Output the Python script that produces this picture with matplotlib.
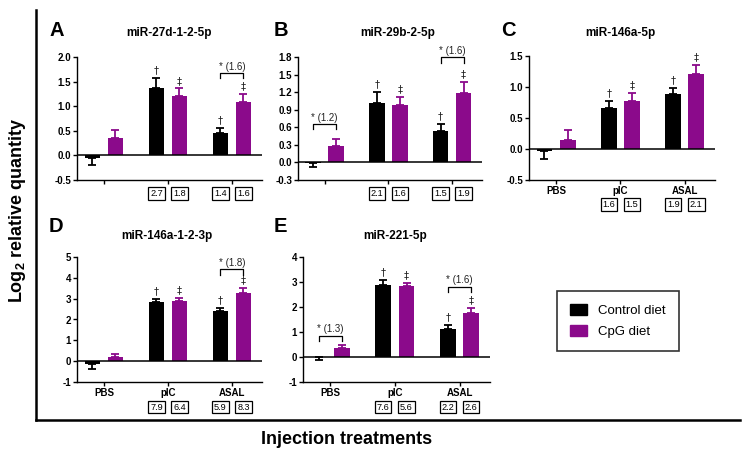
import numpy as np
import matplotlib.pyplot as plt
from matplotlib.lines import Line2D
from matplotlib.patches import Patch
import matplotlib.transforms as mtransforms

plt.rcParams["font.family"] = ["Liberation Sans", "DejaVu Sans"]
plt.rcParams["mathtext.fontset"] = "custom"
plt.rcParams["mathtext.bf"] = "Liberation Sans:bold"
plt.rcParams["mathtext.rm"] = "Liberation Sans:bold"

groups = ["PBS", "pIC", "ASAL"]
diet_labels = ["Control diet", "CpG diet"]
ctrl_color = "black"
cpg_color = "#8B0A8B"

letters = ["A", "B", "C", "D", "E"]
titles = ["miR-27d-1-2-5p", "miR-29b-2-5p", "miR-146a-5p", "miR-146a-1-2-3p", "miR-221-5p"]

# means / SEM per panel (PBS, pIC, ASAL)
ctrl_mean = {"A": [-0.05, 1.36, 0.45], "B": [-0.01, 1.02, 0.54], "C": [-0.03, 0.66, 0.88],
             "D": [-0.12, 2.82, 2.40], "E": [-0.01, 2.88, 1.12]}
ctrl_sem = {"A": [0.15, 0.21, 0.11], "B": [0.06, 0.19, 0.11], "C": [0.13, 0.11, 0.10],
            "D": [0.26, 0.17, 0.15], "E": [0.09, 0.22, 0.16]}
cpg_mean = {"A": [0.36, 1.21, 1.08], "B": [0.28, 0.98, 1.19], "C": [0.15, 0.77, 1.21],
            "D": [0.22, 2.90, 3.27], "E": [0.37, 2.83, 1.75]}
cpg_sem = {"A": [0.16, 0.15, 0.16], "B": [0.12, 0.13, 0.19], "C": [0.15, 0.14, 0.14],
           "D": [0.10, 0.12, 0.23], "E": [0.10, 0.14, 0.20]}

# significance vs PBS
ctrl_marks = ["", "\u2020", "\u2020"]
cpg_marks = ["", "\u2021", "\u2021"]

# diet comparison brackets: (group index, height, label)
brackets = {"A": [(2, 1.68, "* (1.6)")],
            "B": [(0, 0.66, "* (1.2)"), (2, 1.80, "* (1.6)")],
            "C": [],
            "D": [(2, 4.40, "* (1.8)")],
            "E": [(0, 0.86, "* (1.3)"), (2, 2.82, "* (1.6)")]}

# fold changes vs PBS (ctrl, cpg) for pIC and ASAL
fold_ctrl = {"A": ["2.7", "1.4"], "B": ["2.1", "1.5"], "C": ["1.6", "1.9"],
             "D": ["7.9", "5.9"], "E": ["7.6", "2.2"]}
fold_cpg = {"A": ["1.8", "1.6"], "B": ["1.6", "1.9"], "C": ["1.5", "2.1"],
            "D": ["6.4", "8.3"], "E": ["5.6", "2.6"]}

yticks = {"A": np.arange(-0.5, 2.01, 0.5), "B": np.arange(-0.3, 1.81, 0.3),
          "C": np.arange(-0.5, 1.51, 0.5), "D": np.arange(-1, 5.1, 1), "E": np.arange(-1, 4.1, 1)}
yfmt = {"A": "{:.1f}", "B": "{:.1f}", "C": "{:.1f}", "D": "{:.0f}", "E": "{:.0f}"}
show_cats = {"A": False, "B": False, "C": True, "D": True, "E": True}

W, H = 744, 458
# axes boxes in pixels: left, right, top, bottom
boxes = {"A": (77, 262, 57, 180), "B": (298, 482, 57, 180), "C": (529, 715, 56, 180),
         "D": (77, 262, 257, 382), "E": (303, 490, 257, 382)}
# title centre (x, y) and panel letter centre (x, y), pixels
title_pos = {"A": (169, 33), "B": (398, 33), "C": (620, 33), "D": (167, 236), "E": (395, 236)}
letter_pos = {"A": (57, 30), "B": (281, 30), "C": (508, 30), "D": (56, 227), "E": (280, 227)}

fig = plt.figure(figsize=(W / 100, H / 100), dpi=100)

x = np.arange(len(groups))
off = 0.18
bw = 0.245

for letter, title in zip(letters, titles):
    l, r, t, b = boxes[letter]
    ax = fig.add_axes([l / W, 1 - b / H, (r - l) / W, (b - t) / H])
    ticks = yticks[letter]
    ax.set_ylim(ticks[0], ticks[-1])
    ax.set_xlim(-0.42, 2.47)

    for xs, means, sems, col, marks in [
        (x - off, ctrl_mean[letter], ctrl_sem[letter], ctrl_color, ctrl_marks),
        (x + off, cpg_mean[letter], cpg_sem[letter], cpg_color, cpg_marks),
    ]:
        means = np.array(means)
        sems = np.array(sems)
        ax.bar(xs, means, width=bw, color=col, zorder=2)
        lower = np.where(means < 0, sems, 0)
        upper = np.where(means >= 0, sems, 0)
        ax.errorbar(xs, means, yerr=[lower, upper], fmt="none", ecolor=col,
                    elinewidth=1.3, capsize=2.7, capthick=1.3, zorder=3)
        for xi, m, s, mk in zip(xs, means, sems, marks):
            if mk:
                ax.annotate(mk, (xi, m + s), xytext=(0, 2), textcoords="offset points",
                            ha="center", va="bottom", fontsize=7.2, color="#222222",
                            family=["DejaVu Sans"])

    ax.axhline(0, color="black", lw=1.1, zorder=4)

    span = ticks[-1] - ticks[0]
    for gi, h, lab in brackets[letter]:
        dy = span * 0.045
        ax.plot([gi - off, gi - off, gi + off, gi + off], [h - dy, h, h, h - dy],
                color="black", lw=0.9, clip_on=False)
        ax.text(gi, h + span * 0.01, lab, ha="center", va="bottom", fontsize=7,
                color="#222222", clip_on=False)

    # fold-change boxes under the axis
    trans = mtransforms.blended_transform_factory(ax.transData, ax.transAxes)
    box_y = -0.2 if show_cats[letter] else -0.11
    for gi in (1, 2):
        for xi, val in [(gi - off, fold_ctrl[letter][gi - 1]), (gi + off, fold_cpg[letter][gi - 1])]:
            ax.text(xi, box_y, val, transform=trans, ha="center", va="center", fontsize=6.6,
                    bbox=dict(boxstyle="square,pad=0.2", fc="white", ec="black", lw=0.9))

    ax.set_yticks(ticks)
    ax.set_yticklabels([yfmt[letter].format(v) for v in ticks], fontsize=7, fontweight="bold")
    ax.set_xticks(x)
    if show_cats[letter]:
        ax.set_xticklabels(groups, fontsize=7, fontweight="bold")
    else:
        ax.set_xticklabels([])
    ax.tick_params(axis="both", length=3, width=1.0, pad=1.2)
    for s in ("top", "right"):
        ax.spines[s].set_visible(False)
    for s in ("left", "bottom"):
        ax.spines[s].set_linewidth(1.0)

    tx, ty = title_pos[letter]
    fig.text(tx / W, 1 - ty / H, title, ha="center", va="center", fontsize=8.5, fontweight="bold")
    lx, ly = letter_pos[letter]
    fig.text(lx / W, 1 - ly / H, letter, ha="center", va="center", fontsize=14.5, fontweight="bold")

# outer frame lines
fig.add_artist(Line2D([36 / W, 36 / W], [1 - 10 / H, 1 - 420 / H], color="black", lw=1.8))
fig.add_artist(Line2D([36 / W, 740 / W], [1 - 420 / H, 1 - 420 / H], color="black", lw=1.8))

fig.text(18 / W, 1 - 210 / H, r"Log$_\mathbf{2}$ relative quantity", rotation=90,
         ha="center", va="center", fontsize=13, fontweight="bold")
fig.text(347 / W, 1 - 440 / H, "Injection treatments", ha="center", va="center",
         fontsize=13, fontweight="bold")

handles = [Patch(color=ctrl_color), Patch(color=cpg_color)]
fig.legend(handles, diet_labels, loc="center", bbox_to_anchor=(618 / W, 1 - 321 / H),
           fontsize=9.5, frameon=True, fancybox=False, edgecolor="black",
           handlelength=1.3, handleheight=0.9, borderpad=1.0, labelspacing=0.6,
           handletextpad=0.8).get_frame().set_linewidth(1.2)

fig.savefig("out.png", dpi=100)
